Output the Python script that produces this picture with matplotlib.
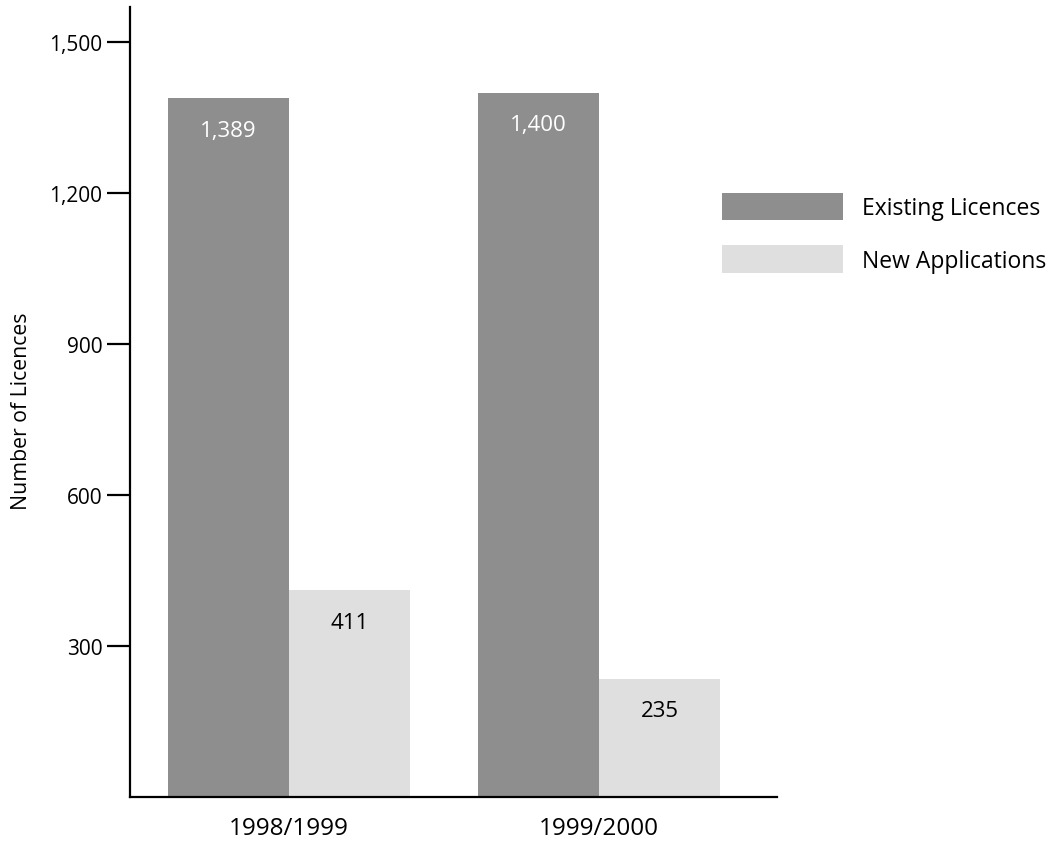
import matplotlib.pyplot as plt
import numpy as np

# licence counts per reporting year
years = ["1998/1999", "1999/2000"]
existing = [1389, 1400]
new_apps = [411, 235]
series_names = ["Existing Licences", "New Applications"]
yticks = [300, 600, 900, 1200, 1500]

dark = "#8e8e8e"
light = "#dfdfdf"

plt.rcParams["font.family"] = ["Open Sans", "DejaVu Sans"]

fig = plt.figure(figsize=(10.55, 8.45), dpi=100)
ax = fig.add_axes([130 / 1055, 1 - 798 / 845, (777 - 130) / 1055, (798 - 8) / 845])

x = np.arange(len(years))
width = 0.39
bars_a = ax.bar(x - width / 2, existing, width, color=dark, label=series_names[0])
bars_b = ax.bar(x + width / 2, new_apps, width, color=light, label=series_names[1])

# value labels sit just inside the top of each bar
for bars, col in ((bars_a, "white"), (bars_b, "black")):
    for b in bars:
        h = b.get_height()
        ax.annotate("{:,}".format(int(h)), (b.get_x() + b.get_width() / 2, h),
                    xytext=(0, -23), textcoords="offset points",
                    ha="center", va="center", fontsize=16, color=col)

ax.set_xlim(-0.513, 1.574)
ax.set_ylim(0, 1570)
ax.set_yticks(yticks)
ax.set_yticklabels(["{:,}".format(v) for v in yticks])
ax.set_xticks(x)
ax.set_xticklabels(years)

for s in ("top", "right"):
    ax.spines[s].set_visible(False)
for s in ("left", "bottom"):
    ax.spines[s].set_linewidth(1.6)

ax.tick_params(axis="y", length=16.5, width=1.6, pad=3.5, labelsize=15)
ax.tick_params(axis="x", length=0, pad=14, labelsize=17.5)
ax.set_ylabel("Number of Licences", fontsize=15.3)
ax.yaxis.set_label_coords(-98 / 647, 0.49)

ax.legend(loc="upper left", bbox_to_anchor=(722 / 1055, 1 - 194 / 845),
          bbox_transform=fig.transFigure, frameon=False, fontsize=16.5,
          handlelength=5.28, handleheight=1.45, handletextpad=0.83,
          labelspacing=1.1, borderpad=0, borderaxespad=0)

fig.savefig("out.png", dpi=100)
